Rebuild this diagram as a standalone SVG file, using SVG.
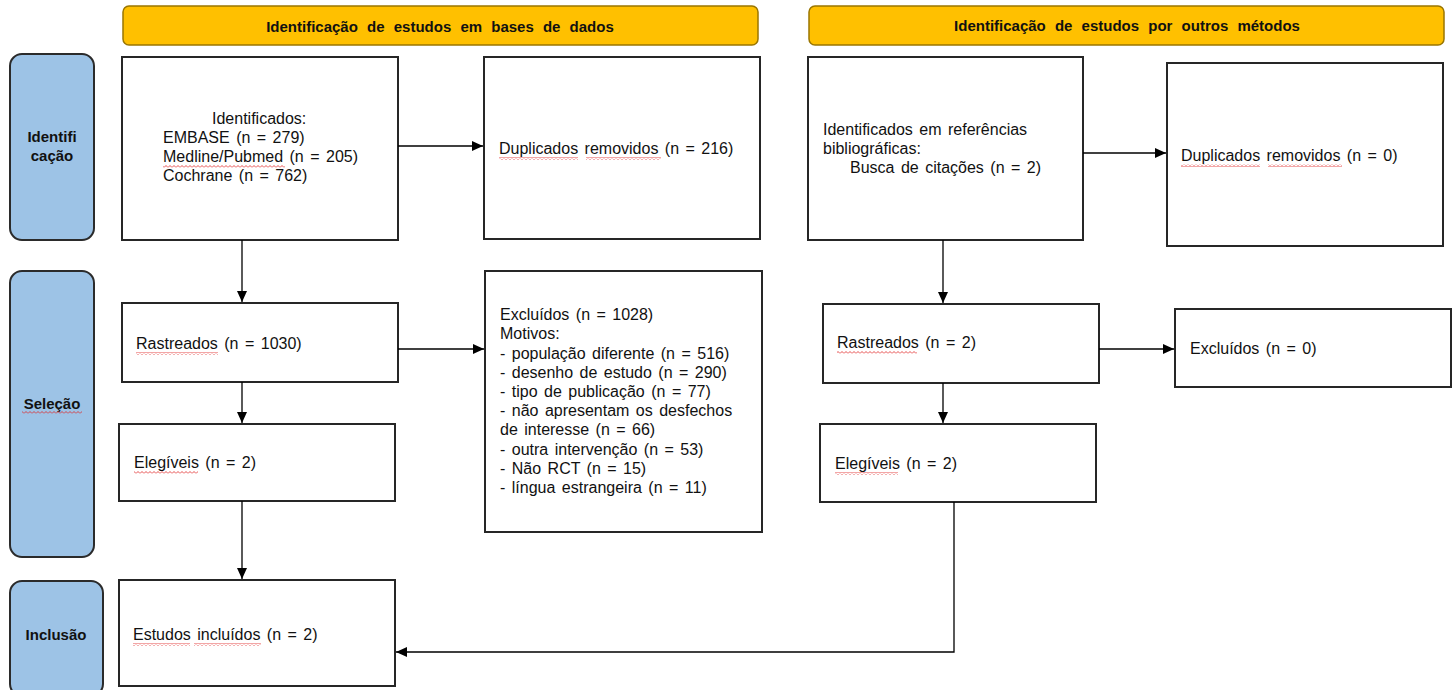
<svg xmlns="http://www.w3.org/2000/svg" width="1456" height="690" viewBox="0 0 1456 690">
<defs>
<marker id="ah" markerUnits="userSpaceOnUse" markerWidth="12" markerHeight="10" refX="11" refY="5" orient="auto"><path d="M0,0 L11,5 L0,10 z" fill="#000"/></marker>
<pattern id="sq" width="4" height="3" patternUnits="userSpaceOnUse"><path d="M0,2.5 L2,0.5 L4,2.5" fill="none" stroke="#e02020" stroke-width="0.8"/></pattern>
<style>
.hdr{fill:#FFC000;stroke:#9a7600;stroke-width:1.5}
.side{fill:#9DC3E6;stroke:#2b2b2b;stroke-width:2}
.box{fill:#fff;stroke:#262626;stroke-width:2}
.t{font-family:"Liberation Sans",Arial,sans-serif;font-size:16px;fill:#111;word-spacing:2px}
.hb{font-family:"Liberation Sans",Arial,sans-serif;font-size:15px;font-weight:bold;fill:#111;text-anchor:middle;word-spacing:5px}
.sb{font-family:"Liberation Sans",Arial,sans-serif;font-size:15px;font-weight:bold;fill:#111;text-anchor:middle}
.con{fill:none;stroke:#000;stroke-width:1.3}
.sqg{fill:url(#sq)}
</style>
</defs>
<rect width="1456" height="690" fill="#fff"/>

<g id="header-bases"><rect class="hdr" x="123" y="6" width="635" height="39" rx="6"/><text class="hb" x="440" y="32">Identificação de estudos em bases de dados</text></g>
<g id="header-outros"><rect class="hdr" x="809" y="6" width="635" height="39" rx="6"/><text class="hb" x="1127" y="31">Identificação de estudos por outros métodos</text></g>

<g id="stage-identificacao"><rect class="side" x="10" y="54" width="84" height="186" rx="12"/><text class="sb" x="52" y="142">Identifi</text><text class="sb" x="52" y="161">cação</text></g>
<g id="stage-selecao"><rect class="side" x="10" y="271" width="84" height="286" rx="12"/><text class="sb" x="52" y="409">Seleção</text><rect class="sqg" x="22" y="411" width="60" height="3"/></g>
<g id="stage-inclusao"><rect class="side" x="10" y="581" width="93" height="115" rx="12"/><text class="sb" x="56" y="640">Inclusão</text></g>

<g id="identificados">
<rect class="box" x="122" y="57" width="276" height="183"/>
<text class="t" x="212" y="124">Identificados:</text>
<text class="t" x="163" y="143">EMBASE (n = 279)</text>
<text class="t" x="163" y="162">Medline/Pubmed (n = 205)</text>
<text class="t" x="163" y="181">Cochrane (n = 762)</text>
<rect class="sqg" x="163" y="165" width="122" height="3"/>
</g>
<g id="duplicados-216">
<rect class="box" x="484" y="57" width="276" height="182"/>
<text class="t" x="499" y="154">Duplicados removidos (n = 216)</text>
<rect class="sqg" x="499" y="157" width="79" height="3"/><rect class="sqg" x="586" y="157" width="75" height="3"/>
</g>
<g id="identificados-ref">
<rect class="box" x="808" y="57" width="275" height="183"/>
<text class="t" x="823" y="135">Identificados em referências</text>
<text class="t" x="823" y="154">bibliográficas:</text>
<text class="t" x="850" y="173">Busca de citações (n = 2)</text>
</g>
<g id="duplicados-0">
<rect class="box" x="1167" y="63" width="276" height="183"/>
<text class="t" x="1181" y="161">Duplicados removidos (n = 0)</text>
<rect class="sqg" x="1181" y="164" width="79" height="3"/><rect class="sqg" x="1268" y="164" width="74" height="3"/>
</g>

<g id="rastreados-1030">
<rect class="box" x="122" y="303" width="276" height="79"/>
<text class="t" x="136" y="349">Rastreados (n = 1030)</text>
<rect class="sqg" x="136" y="352" width="82" height="3"/>
</g>
<g id="excluidos-1028">
<rect class="box" x="485" y="271" width="277" height="261"/>
<text class="t" x="500" y="320">Excluídos (n = 1028)</text>
<text class="t" x="500" y="339">Motivos:</text>
<text class="t" x="500" y="358.5">- população diferente (n = 516)</text>
<text class="t" x="500" y="377.5">- desenho de estudo (n = 290)</text>
<text class="t" x="500" y="397">- tipo de publicação (n = 77)</text>
<text class="t" x="500" y="416">- não apresentam os desfechos</text>
<text class="t" x="500" y="435">de interesse (n = 66)</text>
<text class="t" x="500" y="454.5">- outra intervenção (n = 53)</text>
<text class="t" x="500" y="473.5">- Não RCT (n = 15)</text>
<text class="t" x="500" y="493">- língua estrangeira (n = 11)</text>
</g>
<g id="elegiveis-bases">
<rect class="box" x="119" y="424" width="276" height="77"/>
<text class="t" x="134" y="468">Elegíveis (n = 2)</text>
<rect class="sqg" x="134" y="471" width="64" height="3"/>
</g>
<g id="rastreados-2">
<rect class="box" x="823" y="304" width="276" height="79"/>
<text class="t" x="837" y="348">Rastreados (n = 2)</text>
<rect class="sqg" x="837" y="351" width="80" height="3"/>
</g>
<g id="excluidos-0">
<rect class="box" x="1175" y="309" width="276" height="78"/>
<text class="t" x="1190" y="354">Excluídos (n = 0)</text>
</g>
<g id="elegiveis-outros">
<rect class="box" x="820" y="424" width="276" height="78"/>
<text class="t" x="835" y="469">Elegíveis (n = 2)</text>
<rect class="sqg" x="835" y="472" width="63" height="3"/>
</g>
<g id="incluidos">
<rect class="box" x="119" y="580" width="276" height="106"/>
<text class="t" x="133" y="640">Estudos incluídos (n = 2)</text>
<rect class="sqg" x="133" y="643" width="57" height="3"/><rect class="sqg" x="194" y="643" width="67" height="3"/>
</g>

<g id="connectors">
<line class="con" x1="398" y1="146" x2="483" y2="146" marker-end="url(#ah)"/>
<line class="con" x1="1083" y1="153" x2="1166" y2="153" marker-end="url(#ah)"/>
<line class="con" x1="242" y1="240" x2="242" y2="302" marker-end="url(#ah)"/>
<line class="con" x1="398" y1="349" x2="484" y2="349" marker-end="url(#ah)"/>
<line class="con" x1="242" y1="382" x2="242" y2="423" marker-end="url(#ah)"/>
<line class="con" x1="242" y1="501" x2="242" y2="579" marker-end="url(#ah)"/>
<line class="con" x1="943" y1="240" x2="943" y2="303" marker-end="url(#ah)"/>
<line class="con" x1="1099" y1="349" x2="1174" y2="349" marker-end="url(#ah)"/>
<line class="con" x1="943" y1="383" x2="943" y2="423" marker-end="url(#ah)"/>
<polyline class="con" points="954,502 954,652 396,652" marker-end="url(#ah)"/>
</g>
</svg>
